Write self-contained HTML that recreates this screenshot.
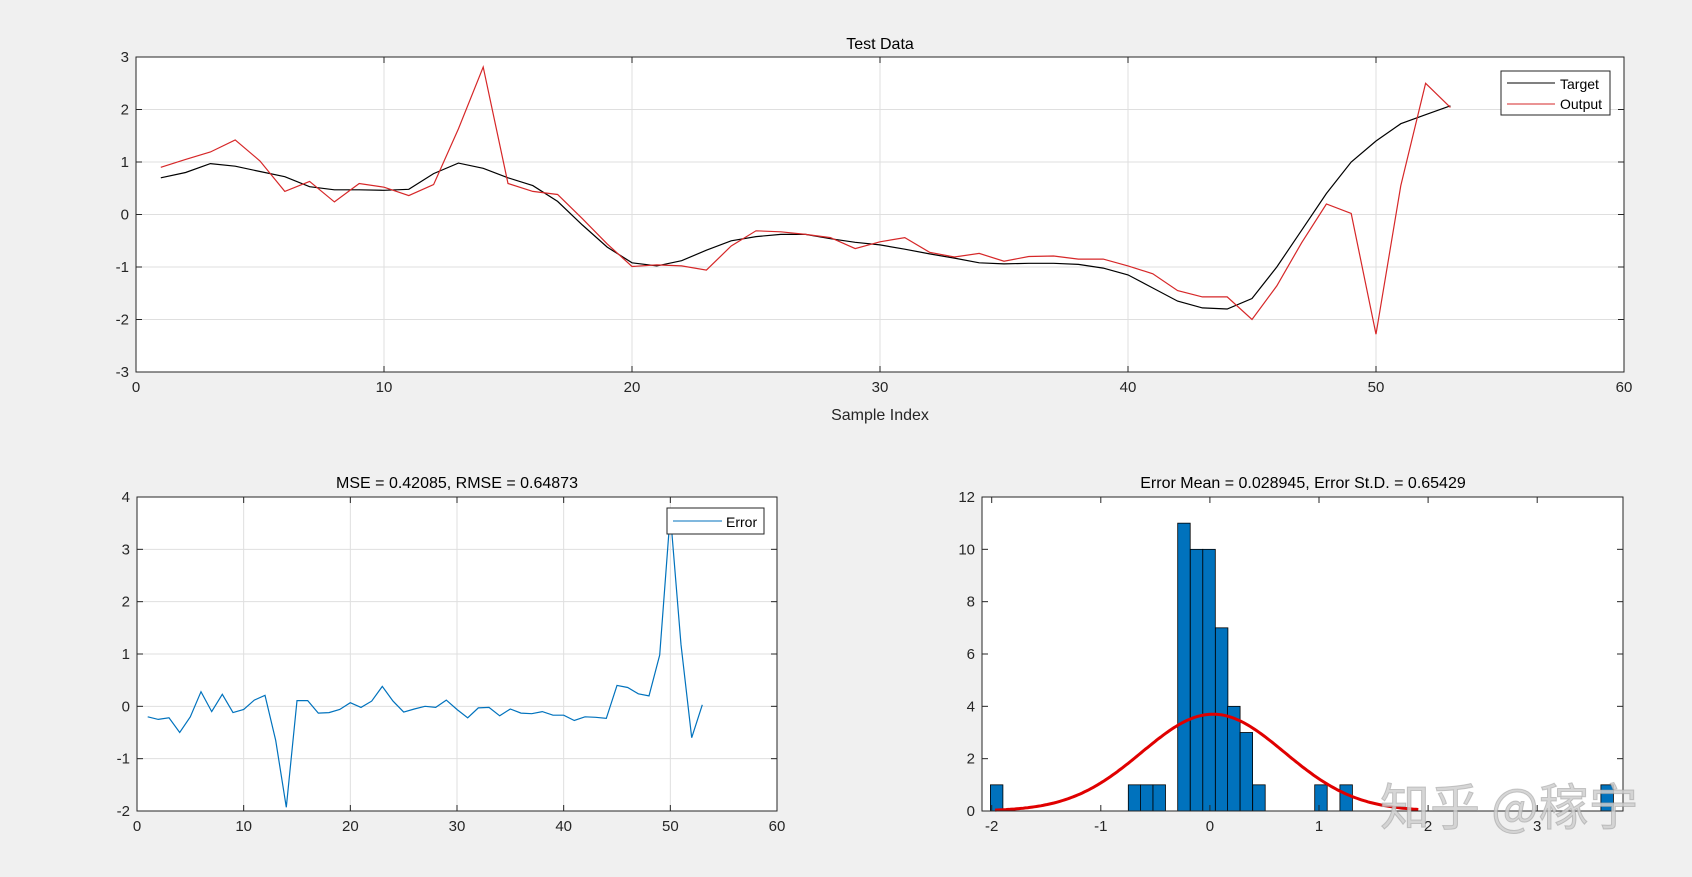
<!DOCTYPE html>
<html><head><meta charset="utf-8"><style>
html,body{margin:0;padding:0;background:#f0f0f0;}
svg{display:block;font-family:"Liberation Sans",Arial,sans-serif;}
</style></head><body>
<svg id="s" width="1692" height="877" xmlns="http://www.w3.org/2000/svg"></svg>
<script>
const T=[0.7,0.8,0.97,0.92,0.82,0.72,0.53,0.47,0.47,0.46,0.48,0.78,0.98,0.88,0.7,0.55,0.25,-0.2,-0.62,-0.92,-0.98,-0.88,-0.68,-0.5,-0.42,-0.38,-0.38,-0.46,-0.53,-0.58,-0.66,-0.75,-0.83,-0.92,-0.94,-0.93,-0.93,-0.95,-1.02,-1.15,-1.4,-1.65,-1.78,-1.8,-1.6,-1.0,-0.3,0.4,1.0,1.4,1.73,1.9,2.07];
const E=[-0.2,-0.25,-0.22,-0.5,-0.2,0.28,-0.1,0.23,-0.12,-0.06,0.12,0.21,-0.65,-1.93,0.11,0.11,-0.13,-0.12,-0.06,0.07,-0.02,0.1,0.38,0.1,-0.11,-0.05,0.0,-0.02,0.12,-0.06,-0.22,-0.03,-0.02,-0.18,-0.05,-0.13,-0.14,-0.1,-0.17,-0.17,-0.27,-0.2,-0.21,-0.23,0.4,0.36,0.24,0.2,0.98,3.68,1.18,-0.6,0.03];
const O=T.map((t,i)=>t-E[i]);
let h='';
function axes(x0,y0,x1,y1,xmin,xmax,ymin,ymax,xt,yt,grid){
  const X=v=>x0+(v-xmin)/(xmax-xmin)*(x1-x0), Y=v=>y1-(v-ymin)/(ymax-ymin)*(y1-y0);
  h+=`<rect x="${x0}" y="${y0}" width="${x1-x0}" height="${y1-y0}" fill="#fff"/>`;
  if(grid){
    xt.forEach(v=>h+=`<line x1="${X(v)}" y1="${y0}" x2="${X(v)}" y2="${y1}" stroke="#dfdfdf" stroke-width="1"/>`);
    yt.forEach(v=>h+=`<line x1="${x0}" y1="${Y(v)}" x2="${x1}" y2="${Y(v)}" stroke="#dfdfdf" stroke-width="1"/>`);
  }
  return {X,Y,post(){
    h+=`<rect x="${x0}" y="${y0}" width="${x1-x0}" height="${y1-y0}" fill="none" stroke="#262626" stroke-width="1"/>`;
    xt.forEach(v=>{const x=X(v);h+=`<line x1="${x}" y1="${y1}" x2="${x}" y2="${y1-6}" stroke="#262626"/><line x1="${x}" y1="${y0}" x2="${x}" y2="${y0+6}" stroke="#262626"/><text x="${x}" y="${y1+20}" font-size="15" text-anchor="middle" fill="#262626">${v}</text>`;});
    yt.forEach(v=>{const y=Y(v);h+=`<line x1="${x0}" y1="${y}" x2="${x0+6}" y2="${y}" stroke="#262626"/><line x1="${x1}" y1="${y}" x2="${x1-6}" y2="${y}" stroke="#262626"/><text x="${x0-7}" y="${y+5}" font-size="15" text-anchor="end" fill="#262626">${v}</text>`;});
  }};
}
function line(a,data,col,w){h+=`<polyline fill="none" stroke="${col}" stroke-width="${w}" points="${data.map((v,i)=>a.X(i+1).toFixed(1)+','+a.Y(v).toFixed(1)).join(' ')}"/>`;}
// top
let a=axes(136,57,1624,372,0,60,-3,3,[0,10,20,30,40,50,60],[-3,-2,-1,0,1,2,3],true);
line(a,T,'#000',1.2);line(a,O,'#d62728',1.2);a.post();
h+=`<text x="880" y="49" font-size="16" text-anchor="middle" fill="#000">Test Data</text>`;
h+=`<text x="880" y="420" font-size="16" text-anchor="middle" fill="#262626">Sample Index</text>`;
h+=`<rect x="1501" y="71" width="109" height="44" fill="#fff" stroke="#262626"/><line x1="1507" y1="83" x2="1555" y2="83" stroke="#000"/><text x="1560" y="89" font-size="14">Target</text><line x1="1507" y1="104" x2="1555" y2="104" stroke="#d62728"/><text x="1560" y="109" font-size="14">Output</text>`;
// bottom left
a=axes(137,497,777,811,0,60,-2,4,[0,10,20,30,40,50,60],[-2,-1,0,1,2,3,4],true);
line(a,E,'#0072bd',1.2);
h+=`<rect x="667" y="508" width="97" height="26" fill="#fff" stroke="#262626"/><line x1="673" y1="521" x2="722" y2="521" stroke="#0072bd"/><text x="726" y="527" font-size="14">Error</text>`;
a.post();
h+=`<text x="457" y="488" font-size="16" text-anchor="middle" fill="#000">MSE = 0.42085, RMSE = 0.64873</text>`;
// histogram
const X0=991.7,PU=109.1;
a=axes(982,497,1623,811,(982-X0)/PU-2,(1623-X0)/PU-2,0,12,[-2,-1,0,1,2,3],[0,2,4,6,8,10,12],false);
const bars=[[70,1],[388,1],[416,1],[445,1],[502,11],[531,10],[560,10],[589,7],[617,4],[646,3],[675,1],[818,1],[876,1],[1478,1]];
bars.forEach(([zx,c])=>{const x=960+zx/2.306,w=12.5;const xe=Math.min(x+w,1623);h+=`<rect x="${x.toFixed(1)}" y="${a.Y(c)}" width="${(xe-x).toFixed(1)}" height="${811-a.Y(c)}" fill="#0072bd" stroke="#000" stroke-width="0.8"/>`;});
let pts=[];for(let v=-1.97;v<=1.93;v+=0.02){pts.push(a.X(v).toFixed(1)+','+a.Y(3.7*Math.exp(-((v-0.029)**2)/(2*0.654**2))).toFixed(1));}
h+=`<polyline fill="none" stroke="#e00000" stroke-width="3" points="${pts.join(' ')}"/>`;
a.post();
h+=`<text x="1303" y="488" font-size="16" text-anchor="middle" fill="#000">Error Mean = 0.028945, Error St.D. = 0.65429</text>`;
h+=`<text x="1380" y="825" font-size="50" fill="#cfcfcf" fill-opacity="0.85" stroke="#9a9a9a" stroke-opacity="0.5" stroke-width="1" font-family="Noto Sans CJK SC, sans-serif">知乎 @稼宁</text>`;
document.getElementById('s').innerHTML=h;
</script>
</body></html>
